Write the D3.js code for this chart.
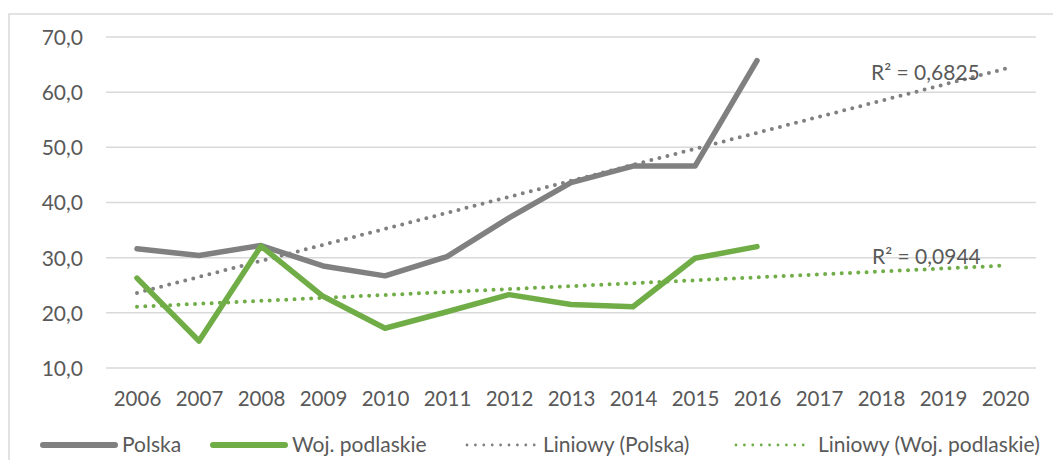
<!DOCTYPE html>
<html>
<head>
<meta charset="utf-8">
<script src="https://cdn.jsdelivr.net/npm/d3@7"></script>
<style>
  html, body { margin: 0; padding: 0; background: #ffffff; }
  svg { display: block; }
  text { font-family: Lato, "Open Sans", sans-serif; fill: #595959; }
</style>
</head>
<body>
<svg id="chart" width="1053" height="460"></svg>
<script>
// ---- data ----
const years = ["2006","2007","2008","2009","2010","2011","2012","2013","2014","2015","2016","2017","2018","2019","2020"];
const polska = [31.6, 30.4, 32.2, 28.5, 26.7, 30.2, 37.2, 43.6, 46.6, 46.6, 65.7];
const podlaskie = [26.3, 14.9, 32.1, 23.0, 17.2, 20.2, 23.3, 21.5, 21.1, 29.9, 32.0];
const yTicks = [10, 20, 30, 40, 50, 60, 70];
const seriesNames = ["Polska", "Woj. podlaskie", "Liniowy (Polska)", "Liniowy (Woj. podlaskie)"];
const r2Labels = ["R² = 0,6825", "R² = 0,0944"];

// ---- layout ----
const svg = d3.select("#chart");
const colGray = "#808080", colGreen = "#70ad47", colGrid = "#d9d9d9";

const x = d3.scalePoint().domain(years).range([106, 1036]).padding(0.5);
const y = d3.scaleLinear().domain([10, 70]).range([368, 37]);

// chart border
svg.append("rect").attr("x", 9).attr("y", 14).attr("width", 1100).attr("height", 500)
  .attr("fill", "none").attr("stroke", colGrid).attr("stroke-width", 1.5);

// gridlines
svg.append("g").selectAll("line").data(yTicks).join("line")
  .attr("x1", 106).attr("x2", 1036)
  .attr("y1", d => y(d)).attr("y2", d => y(d))
  .attr("stroke", colGrid).attr("stroke-width", 1.5);

// y axis labels
const fmt = d => d.toFixed(1).replace(".", ",");
const yAxis = d3.axisLeft(y).tickValues(yTicks).tickFormat(fmt).tickSize(0).tickPadding(0);
const gy = svg.append("g").attr("transform", "translate(83,0)").call(yAxis);
gy.select(".domain").remove();
gy.selectAll("text").attr("font-size", 21).style("font-family", "Lato").attr("fill", "#595959").attr("dy", "0.35em");

// x axis labels
const xAxis = d3.axisBottom(x).tickSize(0).tickPadding(0);
const gx = svg.append("g").attr("transform", "translate(0,399)").call(xAxis);
gx.select(".domain").remove();
gx.selectAll("text").attr("font-size", 20.5).style("font-family", "Lato").attr("fill", "#595959").attr("dy", "0.35em");

// linear regression trendlines (x = 1..n), forecast to last category
function trend(vals) {
  const xs = vals.map((_, i) => i + 1);
  const mx = d3.mean(xs), my = d3.mean(vals);
  let sxy = 0, sxx = 0;
  xs.forEach((xv, i) => { sxy += (xv - mx) * (vals[i] - my); sxx += (xv - mx) ** 2; });
  const b = sxy / sxx, a = my - b * mx;
  return years.map((yr, i) => ({ yr, v: a + b * (i + 1) }));
}

const line = d3.line().x(d => x(d.yr)).y(d => y(d.v));
const toPts = vals => vals.map((v, i) => ({ yr: years[i], v }));

// trendlines
[[polska, colGray], [podlaskie, colGreen]].forEach(([vals, c]) => {
  const t = trend(vals);
  svg.append("path").datum([t[0], t[t.length - 1]]).attr("d", line)
    .attr("fill", "none").attr("stroke", c).attr("stroke-width", 4)
    .attr("stroke-linecap", "round").attr("stroke-dasharray", "0 8.3");
});

// series lines
[[polska, colGray], [podlaskie, colGreen]].forEach(([vals, c]) => {
  svg.append("path").datum(toPts(vals)).attr("d", line)
    .attr("fill", "none").attr("stroke", c).attr("stroke-width", 5.5)
    .attr("stroke-linejoin", "round").attr("stroke-linecap", "round");
});

// R² labels
svg.append("text").attr("x", 871).attr("y", 73).attr("dy", "0.35em").attr("font-size", 21).text(r2Labels[0]);
svg.append("text").attr("x", 872).attr("y", 257).attr("dy", "0.35em").attr("font-size", 21).text(r2Labels[1]);

// legend
const legY = 445;
const legend = [
  { x1: 43, x2: 115, tx: 122, c: colGray, dotted: false },
  { x1: 213, x2: 285, tx: 292, c: colGreen, dotted: false },
  { x1: 467, x2: 535, tx: 543, c: colGray, dotted: true },
  { x1: 736, x2: 807, tx: 818, c: colGreen, dotted: true }
];
legend.forEach((L, i) => {
  svg.append("line").attr("x1", L.x1).attr("x2", L.x2).attr("y1", legY).attr("y2", legY)
    .attr("stroke", L.c).attr("stroke-linecap", "round")
    .attr("stroke-width", L.dotted ? 2.8 : 6)
    .attr("stroke-dasharray", L.dotted ? "0 8.4" : null);
  svg.append("text").attr("x", L.tx).attr("y", legY).attr("dy", "0.35em").attr("font-size", 21).text(seriesNames[i]);
});
</script>
</body>
</html>
